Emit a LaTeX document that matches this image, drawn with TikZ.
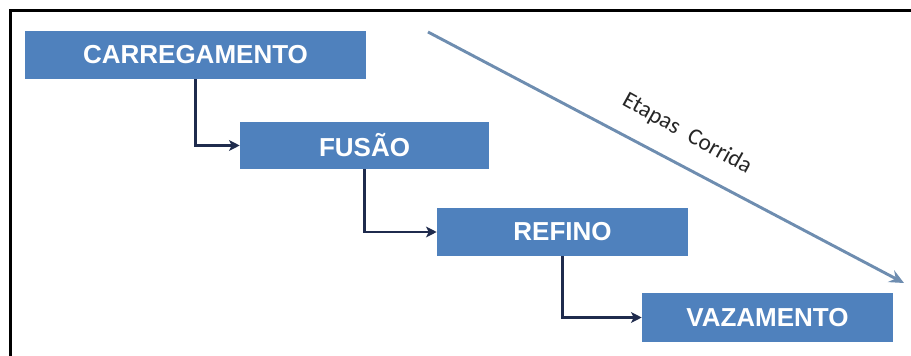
\documentclass[tikz,border=0pt]{standalone}
\usepackage{fontspec}
\setmainfont{Liberation Sans}
\newfontfamily\notefont{Carlito}
\usetikzlibrary{arrows.meta}
\definecolor{boxblue}{HTML}{4F81BD}
\definecolor{linknavy}{HTML}{1F2B4D}
\definecolor{trendblue}{HTML}{6E8DB0}
\begin{document}
\begin{tikzpicture}[x=0.75pt,y=-0.75pt,
  stagebox/.style={fill=boxblue, draw=none, inner sep=0pt,
    text=white, font=\fontsize{19.5}{22}\selectfont\bfseries},
  link/.style={draw=linknavy, line width=1.6pt, -{Stealth[length=8pt,width=8pt,inset=2pt]}},
  trend/.style={draw=trendblue, line width=2.2pt, -{Stealth[length=11pt,width=10pt,inset=4pt]}}]
  \useasboundingbox (0,0) rectangle (911,356);
  % frame lines
  \draw[line width=1.6pt] (10.5,356) -- (10.5,10.5) -- (911,10.5);
  % stages
  \node[stagebox, minimum width=341*0.75pt, minimum height=48*0.75pt] (carr) at (195.5,55) {CARREGAMENTO};
  \node[stagebox, minimum width=249*0.75pt, minimum height=47*0.75pt] (fus) at (364.5,145.5) {FUSÃO};
  \node[stagebox, minimum width=251*0.75pt, minimum height=48*0.75pt] (ref) at (562.5,232) {REFINO};
  \node[stagebox, minimum width=251*0.75pt, minimum height=49*0.75pt] (vaz) at (767.5,317.5) {VAZAMENTO};
  % sequence connectors
  \draw[link] (carr.south) |- (fus.west);
  \draw[link] (fus.south) |- (ref.west);
  \draw[link] (ref.south) |- (vaz.west);
  % overall direction
  \coordinate (tstart) at (428,32);
  \coordinate (tend) at (904,283);
  \draw[trend] (tstart) -- (tend);
  \node[rotate=-29, font=\notefont\fontsize{17.5}{20}\selectfont, text=black!85] (tlabel) at (687,134) {Etapas\hspace{0.5em}Corrida};
\end{tikzpicture}
\end{document}
